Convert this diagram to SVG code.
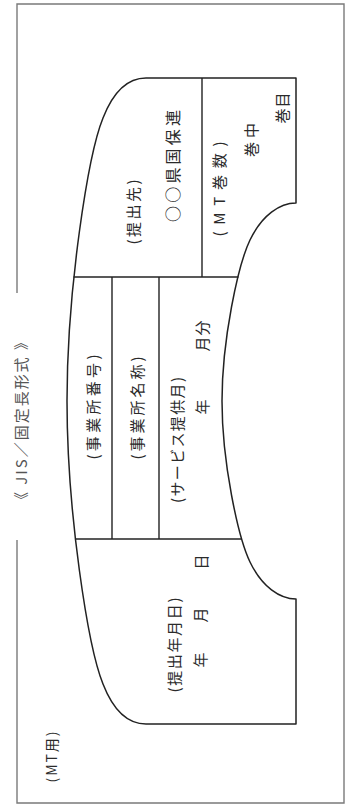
<svg xmlns="http://www.w3.org/2000/svg" width="347" height="808" viewBox="0 0 347 808">
<style>
  .frame { fill: none; stroke: #7a7a7a; stroke-width: 1.4; }
  .outline { fill: none; stroke: #222; stroke-width: 1.5; stroke-linejoin: round; }
  .div { stroke: #222; stroke-width: 1.4; }
  text { font-family: "Noto Sans CJK JP", "Noto Sans", sans-serif; font-size: 15px; fill: #2a2a2a; text-anchor: middle; dominant-baseline: central; }
  .big { font-size: 16px; }
  .small { font-size: 14px; }
  .title { font-size: 15px; fill: #555; }
</style>
<rect width="347" height="808" fill="#fff"/>
<g id="frame">
  <path class="frame" d="M17,293 L17,4 L344,4 L344,803 L17,803 L17,540"/>
</g>
<g id="title">
  <text class="title" transform="translate(20,421) rotate(-90)" textLength="172" lengthAdjust="spacing">《 JIS／固定長形式 》</text>
</g>
<g id="mt-label">
  <text class="small" transform="translate(51,757) rotate(-90)" textLength="51" lengthAdjust="spacing">(MT用)</text>
</g>
<g id="label-outline">
  <path class="outline" d="M146,78 L296,78 L296,203 C280,203 262,215 250,240 C238,265 222,340 222,401 C222,462 238,537 250,562 C262,587 280,599 296,599 L296,724 L146,724 C126,724 112,707 103,684 C88,647 67,512 67,401 C67,290 88,155 103,118 C112,95 126,78 146,78 Z"/>
</g>
<g id="dividers">
  <line class="div" x1="202" y1="78" x2="202" y2="277"/>
  <line class="div" x1="73.5" y1="277" x2="238.5" y2="277"/>
  <line class="div" x1="112" y1="277" x2="112" y2="539"/>
  <line class="div" x1="159" y1="277" x2="159" y2="539"/>
  <line class="div" x1="75" y1="539" x2="242" y2="539"/>
</g>
<g id="field-submit-to">
  <text transform="translate(132,212) rotate(-90)" textLength="65" lengthAdjust="spacing">(提出先)</text>
  <text class="big" transform="translate(172,166) rotate(-90)" textLength="112" lengthAdjust="spacing">○○県国保連</text>
</g>
<g id="field-volumes">
  <text transform="translate(218,189) rotate(-90)" textLength="95" lengthAdjust="spacing">(MT巻数)</text>
  <text transform="translate(250,140) rotate(-90)" textLength="34" lengthAdjust="spacing">巻中</text>
  <text transform="translate(281,108) rotate(-90)" textLength="31" lengthAdjust="spacing">巻目</text>
</g>
<g id="field-office-no">
  <text transform="translate(92,407) rotate(-90)" textLength="105" lengthAdjust="spacing">(事業所番号)</text>
</g>
<g id="field-office-name">
  <text transform="translate(136,408) rotate(-90)" textLength="103" lengthAdjust="spacing">(事業所名称)</text>
</g>
<g id="field-service-month">
  <text transform="translate(176,440) rotate(-90)" textLength="126" lengthAdjust="spacing">(サービス提供月)</text>
  <text transform="translate(201,407) rotate(-90)">年</text>
  <text transform="translate(201,336) rotate(-90)" textLength="31" lengthAdjust="spacing">月分</text>
</g>
<g id="field-submit-date">
  <text transform="translate(173,645) rotate(-90)" textLength="95" lengthAdjust="spacing">(提出年月日)</text>
  <text transform="translate(199,660) rotate(-90)">年</text>
  <text transform="translate(199,615) rotate(-90)">月</text>
  <text transform="translate(200,562) rotate(-90)">日</text>
</g>
</svg>
